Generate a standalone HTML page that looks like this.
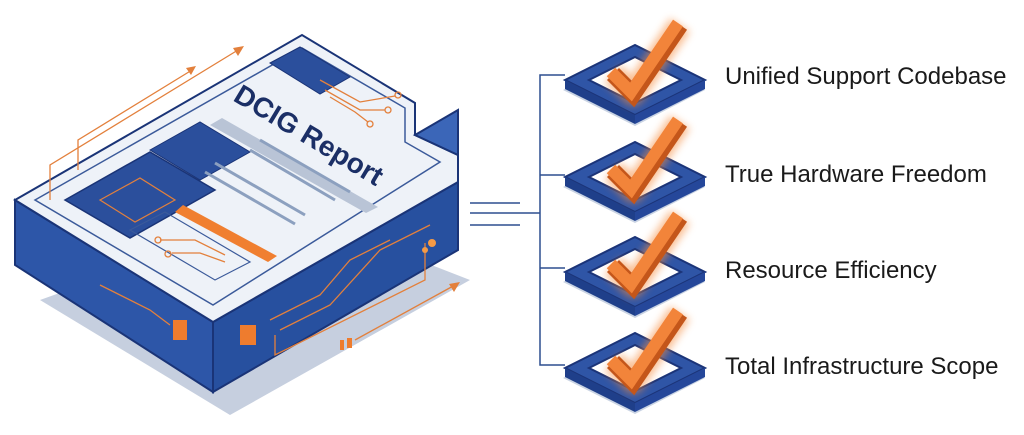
<!DOCTYPE html>
<html><head><meta charset="utf-8"><style>
html,body{margin:0;padding:0;background:#fff;width:1024px;height:435px;overflow:hidden}
svg{display:block}
text{font-family:"Liberation Sans",sans-serif}
</style></head><body>
<svg width="1024" height="435" viewBox="0 0 1024 435">
<defs>
<filter id="glow" x="-50%" y="-50%" width="200%" height="200%"><feGaussianBlur stdDeviation="4"/></filter>
<g id="chk">
  <polygon points="-72,10 0,-26 70,10 0,46" fill="#c9d3e3"/>
  <polygon points="-70,0 0,-35 70,0 0,35" fill="#2f55a6" stroke="#1b3478" stroke-width="2"/>
  <polygon points="-70,0 -70,9 0,44 0,35" fill="#1f3f8a"/>
  <polygon points="70,0 70,9 0,44 0,35" fill="#25479a"/>
  <polygon points="-46,0 0,-23 46,0 0,23" fill="#fff" stroke="#1b3478" stroke-width="2"/>
  <path d="M-22,-6 L-2,14 L45,-55" fill="none" stroke="#f58b3c" stroke-width="24" stroke-linejoin="round" filter="url(#glow)" opacity="0.55"/>
  <path d="M-22,-6 L-2,14 L45,-55" fill="none" stroke="#c4561a" stroke-width="17" stroke-linejoin="miter"/>
  <path d="M-24,-8 L-4,12 L43,-57" fill="none" stroke="#f2843a" stroke-width="12" stroke-linejoin="miter"/>
</g>
</defs>
<polygon points="40,300 230,415 470,280 290,210" fill="#c6cfdf"/>
<polygon points="15,200 213,322 213,392 15,265" fill="#2d56a8" stroke="#1a3477" stroke-width="2"/>
<polygon points="213,322 458,182 458,250 213,392" fill="#27509f" stroke="#1a3477" stroke-width="2"/>
<polygon points="15,200 302,35 415,103 415,135 458,155 458,182 213,322" fill="#eef2f8" stroke="#1a3477" stroke-width="2"/>
<polygon points="415,135 458,110 458,155" fill="#3b66b8" stroke="#1a3477" stroke-width="2"/>
<polygon points="35,200 302,48 405,108 405,142 440,162 213,305" fill="none" stroke="#3b5a9a" stroke-width="1.5"/>
<polygon points="65,200 150,152 215,190 130,238" fill="#2b4f9c" stroke="#1a3477" stroke-width="1.5"/>
<polygon points="150,150 200,122 250,152 200,180" fill="#2b4f9c" stroke="#1a3477"/>
<polygon points="270,63 300,47 350,77 320,94" fill="#2b4f9c" stroke="#1a3477"/>
<polygon points="100,200 140,178 175,200 135,222" fill="none" stroke="#e3803c" stroke-width="1.2"/>
<polygon points="210,125 222,118 378,207 366,213" fill="#b9c4d6"/>
<line x1="260" y1="140" x2="350" y2="192" stroke="#8ca0bf" stroke-width="3"/>
<line x1="250" y1="150" x2="335" y2="200" stroke="#8ca0bf" stroke-width="3"/>
<line x1="215" y1="163" x2="305" y2="215" stroke="#8ca0bf" stroke-width="3"/>
<line x1="205" y1="172" x2="295" y2="224" stroke="#8ca0bf" stroke-width="3"/>
<polygon points="175,212 183,205 277,256 268,262" fill="#f07f30"/>
<polygon points="130,230 165,212 250,262 215,280" fill="none" stroke="#3b5a9a" stroke-width="1.2"/>
<text x="0" y="0" font-size="28" font-weight="bold" fill="#1b2f66" transform="translate(232,100) rotate(31)">DCIG Report</text>
<g stroke="#e3803c" fill="none" stroke-width="1.3">
<path d="M320,80 L360,102 L395,96"/><path d="M325,90 L360,110 L385,110"/><path d="M330,97 L355,112 L368,122"/>
<circle cx="398" cy="95" r="3"/><circle cx="388" cy="110" r="3"/><circle cx="370" cy="124" r="3"/>
<path d="M160,240 L195,240 L225,255"/><path d="M172,253 L200,253 L225,262"/><circle cx="158" cy="240" r="3"/><circle cx="168" cy="254" r="3"/>
<path d="M50,200 L50,165 L238,50"/><path d="M78,170 L78,140 L192,70"/>
<path d="M355,340 L455,285"/>
<path d="M275,335 L275,355 L425,280 L425,243"/>
<path d="M270,320 L320,295 L350,260 L390,240"/><path d="M280,330 L330,305 L380,250 L430,225"/>
<path d="M100,285 L150,310 L170,325"/>
</g>
<g fill="#e3803c"><polygon points="244,46 233,48 238,56"/><polygon points="196,66 186,68 191,75"/><polygon points="460,282 449,284 454,292"/></g>
<rect x="173" y="320" width="14" height="20" fill="#ee7c2e"/><rect x="240" y="325" width="16" height="20" fill="#ee7c2e"/>
<rect x="340" y="340" width="4" height="10" fill="#ee7c2e"/><rect x="347" y="338" width="5" height="10" fill="#ee7c2e"/>
<circle cx="432" cy="243" r="4" fill="#f59a45"/><circle cx="425" cy="250" r="3" fill="#f59a45"/>
<g stroke="#2d4f8f" stroke-width="1.5" fill="none">
<line x1="470" y1="203" x2="520" y2="203"/><line x1="470" y1="213" x2="540" y2="213"/><line x1="470" y1="225" x2="520" y2="225"/>
<path d="M565,75 L540,75 L540,365 L565,365"/><line x1="540" y1="175" x2="565" y2="175"/><line x1="540" y1="268" x2="565" y2="268"/>
</g>
<use href="#chk" x="635" y="80"/>
<use href="#chk" x="635" y="177"/>
<use href="#chk" x="635" y="272"/>
<use href="#chk" x="635" y="368"/>
<g font-size="24" fill="#1a1a1a">
<text x="725" y="84">Unified Support Codebase</text>
<text x="725" y="182">True Hardware Freedom</text>
<text x="725" y="278">Resource Efficiency</text>
<text x="725" y="374">Total Infrastructure Scope</text>
</g>
</svg>
</body></html>
